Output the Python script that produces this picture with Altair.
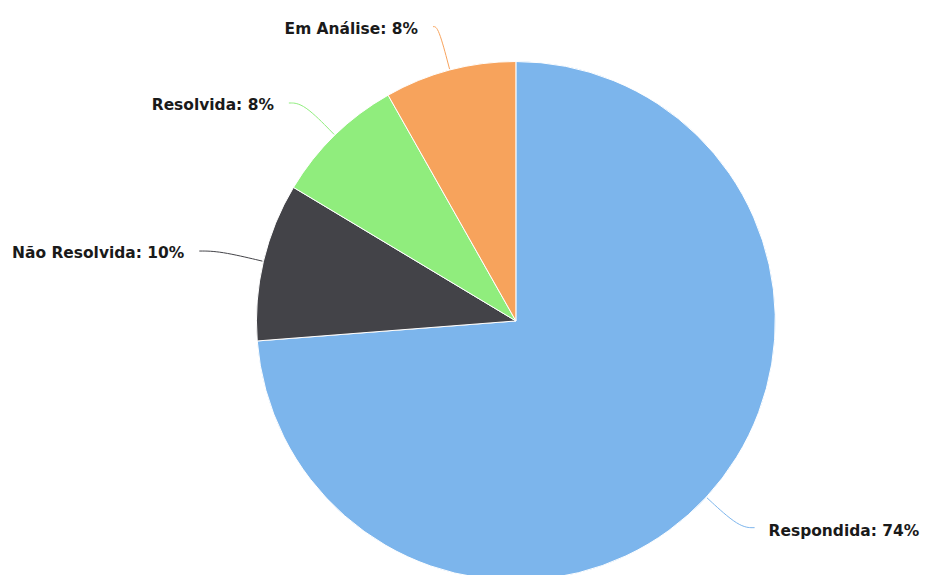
import altair as alt
import pandas as pd

categories = ["Respondida", "Não Resolvida", "Resolvida", "Em Análise"]
counts = [90, 12, 10, 10]
colors = ["#7cb5ec", "#434348", "#90ed7d", "#f7a35c"]

df = pd.DataFrame({"category": categories, "value": counts, "order": list(range(len(categories)))})

CX, CY, R = 509, 313, 260
RX, RY, RE = 326, 305, 261

color = alt.Color("category:N", scale=alt.Scale(domain=categories, range=colors), legend=None)

pie = alt.Chart(df).mark_arc(outerRadius=R, stroke="white", strokeWidth=1).encode(
    theta=alt.Theta("value:Q", stack=True),
    color=color,
    order=alt.Order("order:Q"),
    x=alt.value(CX),
    y=alt.value(CY),
)

base = (
    alt.Chart(df)
    .transform_joinaggregate(total="sum(value)")
    .transform_window(cum="sum(value)", sort=[alt.SortField("order")], frame=[None, 0])
    .transform_calculate(
        mid="(datum.cum - datum.value/2)/datum.total*2*PI",
    )
    .transform_calculate(dx="sin(datum.mid)", dy="-cos(datum.mid)")
    .transform_calculate(
        lx=f"{CX} + {RX}*datum.dx",
        ly=f"{CY} + {RY}*datum.dy",
        label="datum.category + ': ' + format(datum.value/datum.total*100, '.0f') + '%'",
    )
)

lines = (
    base.transform_calculate(pts="[0,1,2]")
    .transform_flatten(["pts"])
    .transform_calculate(
        px=f"datum.pts==0 ? datum.lx : datum.pts==1 ? {CX}+{RY}*datum.dx : {CX}+{RE}*datum.dx",
        py=f"datum.pts==0 ? datum.ly : datum.pts==1 ? {CY}+{RY}*datum.dy : {CY}+{RE}*datum.dy",
    )
    .mark_line(strokeWidth=1, interpolate="basis")
    .encode(
        x=alt.X("px:Q", scale=None),
        y=alt.Y("py:Q", scale=None),
        detail="category:N",
        color=color,
        order=alt.Order("pts:Q"),
    )
)

text_kw = dict(fontSize=15.5, fontWeight="bold", font="DejaVu Sans", color="#1a1a1a", baseline="middle")

right_text = (
    base.transform_filter("datum.dx >= 0")
    .transform_calculate(tx="datum.lx + 14", ty="datum.ly + 3")
    .mark_text(align="left", **text_kw)
    .encode(x=alt.X("tx:Q", scale=None), y=alt.Y("ty:Q", scale=None), text="label:N")
)
left_text = (
    base.transform_filter("datum.dx < 0")
    .transform_calculate(tx="datum.lx - 15", ty="datum.ly + 2")
    .mark_text(align="right", **text_kw)
    .encode(x=alt.X("tx:Q", scale=None), y=alt.Y("ty:Q", scale=None), text="label:N")
)

chart = (
    alt.layer(pie, lines, right_text, left_text)
    .properties(width=912, height=559, padding=0, background="white")
    .configure_view(stroke=None)
)

chart.save("out.html", embed_options={"renderer": "svg", "actions": False})
